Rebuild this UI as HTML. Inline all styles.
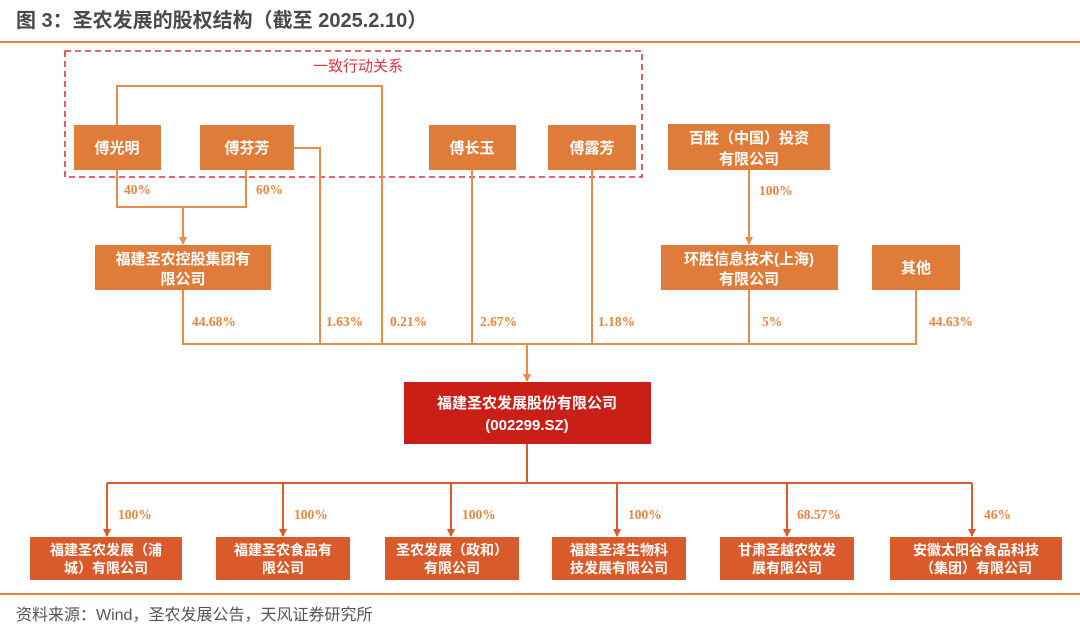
<!DOCTYPE html>
<html><head><meta charset="utf-8">
<style>
body{margin:0;background:#fff;width:1080px;height:633px;overflow:hidden;font-family:"Liberation Sans","Noto Sans CJK SC",sans-serif}
svg{display:block}
.bx{fill:#e07c3a}
.bt{fill:#fff;font-size:15px;font-weight:bold;text-anchor:middle;font-family:"Liberation Sans","Noto Sans CJK SC",sans-serif}
.pc{fill:#e8843c;font-size:13.5px;font-weight:bold;font-family:"Liberation Serif","Noto Serif CJK SC",serif}
.ln{stroke:#ec8a48;stroke-width:2;fill:none}
.ln2{stroke:#dd5a2c;stroke-width:2;fill:none}
</style></head><body>
<svg width="1080" height="633" viewBox="0 0 1080 633">
<defs>
<marker id="ar" markerWidth="8" markerHeight="8" refX="4" refY="7" orient="0" markerUnits="userSpaceOnUse"><path d="M0,0 L8,0 L4,8 Z" fill="#ec8a48"/></marker>
<marker id="ar2" markerWidth="8" markerHeight="8" refX="4" refY="7" orient="0" markerUnits="userSpaceOnUse"><path d="M0,0 L8,0 L4,8 Z" fill="#dd5a2c"/></marker>
</defs>
<text x="16" y="27" font-size="20" font-weight="bold" fill="#4a4a4a">图 3：圣农发展的股权结构（截至 2025.2.10）</text>
<line x1="0" y1="42" x2="1080" y2="42" stroke="#e8843c" stroke-width="2"/>

<rect x="65" y="51" width="577" height="126" fill="none" stroke="#d9343f" stroke-width="1.6" stroke-dasharray="6,4"/>
<text x="358" y="71" font-size="15" fill="#d9343f" text-anchor="middle">一致行动关系</text>

<path class="ln" d="M117,125 V86 H382 V344"/>
<path class="ln" d="M294,148 H320 V344"/>
<path class="ln" d="M472,170 V344"/>
<path class="ln" d="M592,170 V344"/>
<path class="ln" d="M117,170 V207 H246 V170"/>
<path class="ln" d="M183,207 V244" marker-end="url(#ar)"/>
<path class="ln" d="M183,290 V344 H916 V290"/>
<path class="ln" d="M749,170 V244" marker-end="url(#ar)"/>
<path class="ln" d="M749,290 V344"/>
<path class="ln" d="M527,344 V381" marker-end="url(#ar)"/>
<path class="ln2" d="M527,444 V483 M107,483 H972"/>
<path class="ln2" d="M107,483 V536" marker-end="url(#ar2)"/>
<path class="ln2" d="M283,483 V536" marker-end="url(#ar2)"/>
<path class="ln2" d="M451,483 V536" marker-end="url(#ar2)"/>
<path class="ln2" d="M617,483 V536" marker-end="url(#ar2)"/>
<path class="ln2" d="M787,483 V536" marker-end="url(#ar2)"/>
<path class="ln2" d="M972,483 V536" marker-end="url(#ar2)"/>

<g><rect class="bx" x="74" y="125" width="87" height="45"/><text class="bt" x="117" y="153">傅光明</text></g>
<g><rect class="bx" x="200" y="125" width="94" height="45"/><text class="bt" x="247" y="153">傅芬芳</text></g>
<g><rect class="bx" x="429" y="125" width="87" height="45"/><text class="bt" x="472" y="153">傅长玉</text></g>
<g><rect class="bx" x="548" y="125" width="88" height="45"/><text class="bt" x="592" y="153">傅露芳</text></g>
<g><rect class="bx" x="668" y="124" width="162" height="46"/><text class="bt" x="749" y="143">百胜（中国）投资</text><text class="bt" x="749" y="164">有限公司</text></g>
<g><rect class="bx" x="95" y="245" width="176" height="45"/><text class="bt" x="183" y="264">福建圣农控股集团有</text><text class="bt" x="183" y="284">限公司</text></g>
<g><rect class="bx" x="661" y="245" width="177" height="45"/><text class="bt" x="749" y="264">环胜信息技术(上海)</text><text class="bt" x="749" y="284">有限公司</text></g>
<g><rect class="bx" x="872" y="245" width="88" height="45"/><text class="bt" x="916" y="273">其他</text></g>

<text class="pc" x="124" y="194">40%</text>
<text class="pc" x="256" y="194">60%</text>
<text class="pc" x="759" y="195">100%</text>
<text class="pc" x="192" y="326">44.68%</text>
<text class="pc" x="326" y="326">1.63%</text>
<text class="pc" x="390" y="326">0.21%</text>
<text class="pc" x="480" y="326">2.67%</text>
<text class="pc" x="598" y="326">1.18%</text>
<text class="pc" x="762" y="326">5%</text>
<text class="pc" x="929" y="326">44.63%</text>

<g><rect x="404" y="382" width="247" height="62" fill="#c91f16"/><text class="bt" x="527" y="408">福建圣农发展股份有限公司</text><text class="bt" x="527" y="430">(002299.SZ)</text></g>

<text class="pc" x="118" y="519">100%</text>
<text class="pc" x="294" y="519">100%</text>
<text class="pc" x="462" y="519">100%</text>
<text class="pc" x="628" y="519">100%</text>
<text class="pc" x="797" y="519">68.57%</text>
<text class="pc" x="984" y="519">46%</text>
<g><rect x="30" y="537" width="152" height="43" fill="#d95a2a"/><text class="bt" x="106" y="555" style="font-size:14px">福建圣农发展（浦</text><text class="bt" x="106" y="573" style="font-size:14px">城）有限公司</text></g>
<g><rect x="216" y="537" width="134" height="43" fill="#d95a2a"/><text class="bt" x="283" y="555" style="font-size:14px">福建圣农食品有</text><text class="bt" x="283" y="573" style="font-size:14px">限公司</text></g>
<g><rect x="385" y="537" width="134" height="43" fill="#d95a2a"/><text class="bt" x="452" y="555" style="font-size:14px">圣农发展（政和）</text><text class="bt" x="452" y="573" style="font-size:14px">有限公司</text></g>
<g><rect x="552" y="537" width="134" height="43" fill="#d95a2a"/><text class="bt" x="619" y="555" style="font-size:14px">福建圣泽生物科</text><text class="bt" x="619" y="573" style="font-size:14px">技发展有限公司</text></g>
<g><rect x="720" y="537" width="134" height="43" fill="#d95a2a"/><text class="bt" x="787" y="555" style="font-size:14px">甘肃圣越农牧发</text><text class="bt" x="787" y="573" style="font-size:14px">展有限公司</text></g>
<g><rect x="890" y="537" width="172" height="43" fill="#d95a2a"/><text class="bt" x="976" y="555" style="font-size:14px">安徽太阳谷食品科技</text><text class="bt" x="976" y="573" style="font-size:14px">（集团）有限公司</text></g>

<line x1="0" y1="594" x2="1080" y2="594" stroke="#e8843c" stroke-width="2"/>
<text x="16" y="620" font-size="16" fill="#555">资料来源：Wind，圣农发展公告，天风证券研究所</text>
</svg>
</body></html>
